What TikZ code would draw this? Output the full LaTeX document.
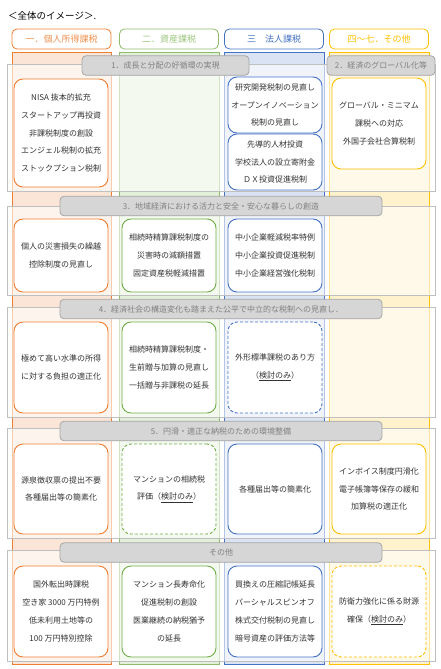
\documentclass[tikz,border=0pt]{standalone}
\usepackage{fontspec}
\setmainfont{Noto Sans CJK JP}
\usepackage{xcolor}
\usepackage{tikz}

\definecolor{orng}{HTML}{ED7D31}
\definecolor{orngbg}{HTML}{FBE5D6}
\definecolor{grn}{HTML}{70AD47}
\definecolor{grnbg}{HTML}{E2F0D9}
\definecolor{blu}{HTML}{4472C4}
\definecolor{blubg}{HTML}{DAE3F3}
\definecolor{ylw}{HTML}{FFC000}
\definecolor{ylwbg}{HTML}{FFF2CC}

\begin{document}
\begin{tikzpicture}[x=1pt, y=-1pt,
    colbg/.style={draw, line width=0.8pt, inner sep=0pt, outer sep=0pt,
        minimum width=99pt, minimum height=612pt},
    hdr/.style={draw, fill=white, rounded corners=5pt, line width=0.8pt,
        minimum width=99pt, minimum height=20pt, inner sep=0pt,
        font=\fontsize{9}{11}\selectfont},
    band/.style={draw=black!25, line width=1pt, fill=white, fill opacity=0.6,
        minimum width=428pt, inner sep=0pt, outer sep=0pt},
    pill/.style={draw=black!35, fill=black!16, rounded corners=4pt,
        line width=0.8pt, minimum height=19.5pt, inner sep=0pt,
        text=black!50, font=\fontsize{8}{10}\selectfont},
    item/.style={draw, fill=white, rounded corners=9pt, line width=0.9pt,
        minimum width=94pt, inner sep=0pt, align=center, text=black!80,
        font=\fontsize{8}{17.8}\selectfont},
    tbd/.style={item, dash pattern=on 3pt off 2pt},
]
\fill[white] (0,0) rectangle (441,669);
\useasboundingbox (0,0) rectangle (441,669);

% Title
\node[anchor=west, inner sep=0pt, font=\fontsize{9.5}{11}\selectfont] (title) at (8,16) {＜全体のイメージ＞.};

% Column headers
\node[hdr, draw=orng, text=orng!85] (hdrone) at (61.5,39) {一．個人所得課税};
\node[hdr, draw=grn!80, text=grn!70] (hdrtwo) at (169,39) {二．資産課税};
\node[hdr, draw=blu, text=blu] (hdrthree) at (274,39) {三　法人課税};
\node[hdr, draw=ylw, text=ylw] (hdrfour) at (379,39) {四～七．その他};

% Column backgrounds
\node[colbg, draw=orng, fill=orngbg] (colone) at (61.5,358) {};
\node[colbg, draw=grn!80, fill=grnbg, minimum width=100pt] (coltwo) at (169,358) {};
\node[colbg, draw=blu, fill=blubg, minimum width=100pt] (colthree) at (274,358) {};
\node[colbg, draw=ylw, fill=ylwbg, minimum width=100pt] (colfour) at (379,358) {};

% Row bands
\node[band, minimum height=126pt] (bandone) at (221,128) {};
\node[band, minimum height=89pt] (bandtwo) at (221,250.5) {};
\node[band, minimum height=110pt] (bandthree) at (221,362) {};
\node[band, minimum height=110pt] (bandfour) at (221,483) {};
\node[band, minimum height=111pt] (bandfive) at (221,605.5) {};

% Row 1
\node[pill, minimum width=167pt] (pillone) at (165.5,65.5) {1．成長と分配の好循環の実現};
\node[pill, minimum width=108pt] (pillglobal) at (381,65.5) {2．経済のグローバル化等};
\node[item, draw=orng, minimum height=108pt] (nisa) at (61,133)
    {NISA 抜本的拡充\\スタートアップ再投資\\非課税制度の創設\\エンジェル税制の拡充\\ストックプション税制};
\node[item, draw=blu, minimum height=56pt] (rnd) at (275,105)
    {研究開発税制の見直し\\オープンイノベーション\\税制の見直し};
\node[item, draw=blu, minimum height=56pt] (dx) at (275,162)
    {先導的人材投資\\学校法人の設立寄附金\\ＤＸ投資促進税制};
\node[item, draw=ylw, minimum height=91pt] (minimum) at (379,123.5)
    {グローバル・ミニマム\\課税への対応\\外国子会社合算税制};

% Row 2
\node[pill, minimum width=322pt] (pilltwo) at (221,206) {3．地域経済における活力と安全・安心な暮らしの創造};
\node[item, draw=orng, minimum height=73pt] (disaster) at (61,255.5)
    {個人の災害損失の繰越\\控除制度の見直し};
\node[item, draw=grn, minimum height=73pt] (relief) at (169,255.5)
    {相続時精算課税制度の\\災害時の減額措置\\固定資産税軽減措置};
\node[item, draw=blu, minimum height=73pt] (sme) at (275,255.5)
    {中小企業軽減税率特例\\中小企業投資促進税制\\中小企業経営強化税制};

% Row 3
\node[pill, minimum width=322pt] (pillthree) at (221,309) {4．経済社会の構造変化も踏まえた公平で中立的な税制への見直し．};
\node[item, draw=orng, minimum height=91pt] (highinc) at (61,367.5)
    {極めて高い水準の所得\\に対する負担の適正化};
\node[item, draw=grn, minimum height=91pt] (gift) at (169,367.5)
    {相続時精算課税制度・\\生前贈与加算の見直し\\一括贈与非課税の延長};
\node[tbd, draw=blu, minimum height=91pt] (sizebased) at (275,367.5)
    {外形標準課税のあり方\\（\underline{検討のみ}）};

% Row 4
\node[pill, minimum width=322pt] (pillfour) at (221,431) {5．円滑・適正な納税のための環境整備};
\node[item, draw=orng, minimum height=90pt] (withhold) at (61,489)
    {源泉徴収票の提出不要\\各種届出等の簡素化};
\node[tbd, draw=grn, minimum height=90pt] (condo) at (169,489)
    {マンションの相続税\\評価（\underline{検討のみ}）};
\node[item, draw=blu, minimum height=90pt] (filing) at (275,489)
    {各種届出等の簡素化};
\node[item, draw=ylw, minimum height=90pt] (invoice) at (379,489)
    {インボイス制度円滑化\\電子帳簿等保存の緩和\\加算税の適正化};

% Row 5
\node[pill, minimum width=322pt] (pillfive) at (221,552.5) {その他};
\node[item, draw=orng, minimum height=91pt] (exit) at (61,611.5)
    {国外転出時課税\\空き家 3000 万円特例\\低未利用土地等の\\100 万円特別控除};
\node[item, draw=grn, minimum height=91pt] (longlife) at (169,611.5)
    {マンション長寿命化\\促進税制の創設\\医業継続の納税猶予\\の延長};
\node[item, draw=blu, minimum height=91pt] (spinoff) at (275,611.5)
    {買換えの圧縮記帳延長\\パーシャルスピンオフ\\株式交付税制の見直し\\暗号資産の評価方法等};
\node[tbd, draw=ylw, minimum height=91pt] (defense) at (379,611.5)
    {防衛力強化に係る財源\\確保（\underline{検討のみ}）};

\end{tikzpicture}
\end{document}
